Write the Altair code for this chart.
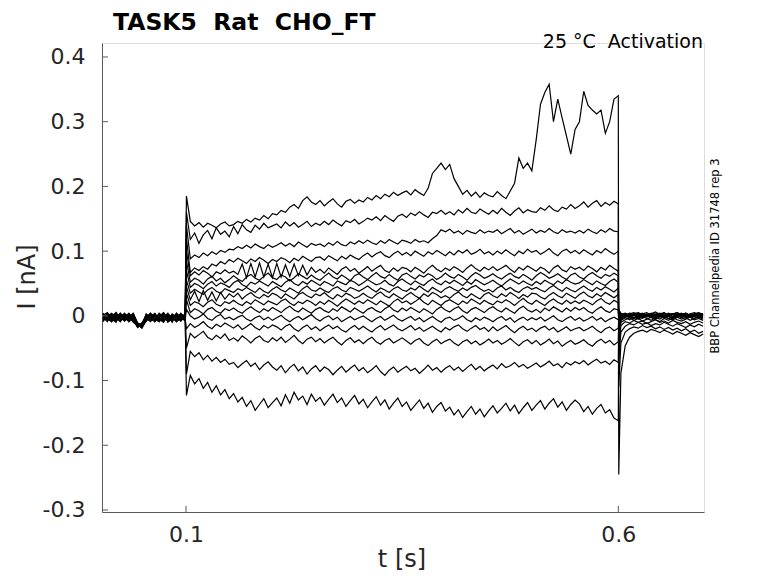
import altair as alt
import pandas as pd

# ---------------- sample grid (s) ----------------
t_pre = [round(0.004 + 0.005 * k, 4) for k in range(20)]
t_on = 0.1005
t_step = [round(0.105 + 0.005 * k, 4) for k in range(100)]
t_off = 0.6005
t_tail = [round(0.603 + 0.005 * k, 4) for k in range(20)]

# ---------------- current values (pA) ----------------
pre_1 = [-3, 4, -6, 1, -9, 3, -5, -1, -14, -18, -5, 3, -8, -2, 5, -4, 1, -7, 2, -3]
pre_2 = [2, -7, -1, -10, 4, -4, 1, -8, -17, -12, 0, -6, 3, -9, -3, 4, -6, -1, -8, 2]
pre_3 = [-6, 1, -9, 5, -3, -8, 0, 3, -12, -19, -7, -1, 4, -5, -10, 1, -4, -8, 3, -2]
pre_4 = [3, -4, 2, -7, -2, 4, -9, -3, -18, -14, 2, -8, -4, 3, -6, 0, -10, 4, -3, -7]
pre_5 = [-8, 2, -3, 5, -6, -1, 3, -7, -13, -16, -4, 4, -9, -2, 5, -5, -1, -9, 2, -5]
pre_6 = [4, -3, -8, 0, 3, -6, 1, -10, -15, -13, -8, 1, -2, -7, 3, -3, -8, 0, -5, 4]
pre_7 = [-2, -9, 3, -4, 1, -7, -2, 4, -11, -18, 2, -5, -9, 0, -3, -8, 3, -2, -6, 1]
pre_8 = [-9, 0, 4, -5, -1, 3, -8, -2, -16, -11, -3, 3, -7, -1, 2, -10, -4, 4, -8, -1]
pre_9 = [1, 5, -5, -2, -8, 2, -3, -9, -14, -18, -6, 3, -1, -8, -4, 2, -7, -3, 3, -4]
pre_10 = [-5, -1, 3, -8, 0, -4, 4, -6, -17, -12, 1, -7, 2, -3, -9, -1, -5, 2, -2, -8]
pre_11 = [3, -5, -9, 2, -3, -7, 0, 2, -12, -16, -8, -1, -6, 4, -2, -6, 0, -9, -4, 3]
pre_12 = [-4, 2, -2, -6, 4, -3, -9, 3, -15, -17, -2, 1, -5, -9, 2, -3, -8, 3, -1, -6]
pre_13 = [-7, 3, -1, -3, -9, 1, 2, -6, -11, -14, -4, -9, 1, -4, -8, 3, -2, -6, 4, -4]
pre_14 = [2, -2, -6, -9, 1, -3, -5, 0, -16, -15, 3, -2, -6, -8, -1, -5, 2, -3, -7, 0]
pre_15 = [-1, -6, 1, 4, -5, -1, 3, -8, -13, -17, -1, -7, 2, -3, -6, 1, -4, -7, 3, -2]
pre_16 = [-5, 2, -3, -4, 3, -8, -2, -1, -18, -12, -2, 4, -7, 0, 3, -9, -4, 1, -3, 2]

on_spike = [185, 160, 140, 120, 100, 85, 70, 55, 45, 35, 25, 10, -20, -50, -90, -123]
off_spike = [-245, -110, -70, -50, -40, -35, -30, -25, -20, -15, -10, -8, -5, 0, 5, 10]

step_1 = [146, 139, 144, 137, 143, 140, 136, 142, 145, 139,
          141, 146, 143, 149, 145, 151, 148, 155, 150, 158,
          156, 163, 160, 168, 172, 166, 178, 184, 176, 172,
          178, 170, 176, 181, 173, 168, 177, 180, 174, 179,
          176, 183, 179, 186, 181, 188, 184, 191, 186, 190,
          193, 187, 195, 190, 186, 197, 220, 228, 236, 226,
          234, 212, 200, 188, 194, 185, 191, 183, 190, 186,
          184, 192, 186, 181, 193, 205, 244, 228, 236, 224,
          272, 327, 345, 358, 300, 335, 306, 278, 250, 288,
          300, 347, 325, 318, 312, 318, 282, 300, 335, 340]
step_2 = [118, 128, 112, 125, 132, 119, 136, 126, 131, 122,
          138, 127, 141, 133, 129, 140, 134, 143, 136, 139,
          142, 136, 145, 139, 144, 137, 141, 146, 138, 143,
          140, 146, 141, 148, 143, 139, 147, 144, 149, 142,
          146, 151, 148, 153, 147, 155, 150, 146, 154, 157,
          152, 159, 155, 161, 156, 152, 160, 158, 163, 157,
          161, 156, 164, 159, 166, 160, 158, 165, 161, 157,
          163, 158, 166, 160, 155, 162, 167, 159, 164, 161,
          160, 167, 163, 170, 164, 161, 168, 165, 172, 166,
          170, 176, 168, 174, 178, 169, 175, 171, 177, 173]
step_3 = [88, 94, 90, 97, 93, 99, 95, 101, 98, 103,
          102, 107, 104, 109, 105, 111, 107, 104, 110, 106,
          109, 113, 108, 112, 107, 114, 110, 106, 112, 109,
          111, 107, 113, 109, 115, 110, 108, 114, 111, 116,
          112, 117, 113, 110, 116, 112, 118, 114, 111, 117,
          115, 112, 118, 114, 116, 113, 119, 124, 133, 130,
          134, 128, 131, 126, 132, 129, 127, 133, 128, 131,
          129, 133, 127, 131, 135, 128, 132, 126, 130, 134,
          128, 132, 129, 135, 130, 127, 133, 129, 131, 128,
          132, 128, 134, 130, 127, 133, 129, 135, 131, 130]
step_4 = [67, 74, 70, 76, 72, 80, 77, 84, 80, 87,
          83, 89, 85, 81, 88, 84, 90, 86, 81, 87,
          84, 90, 87, 82, 89, 85, 92, 88, 84, 90,
          91, 86, 93, 89, 85, 92, 88, 94, 90, 87,
          93, 97, 91, 96, 99, 93, 90, 96, 100, 94,
          98, 93, 100, 96, 92, 99, 95, 101, 97, 93,
          99, 94, 101, 97, 102, 95, 98, 103, 96, 99,
          94, 100, 96, 102, 97, 93, 100, 96, 103, 98,
          101, 95, 99, 104, 97, 93, 100, 103, 97, 101,
          96, 102, 98, 94, 101, 97, 104, 99, 95, 100]
step_5 = [62, 68, 63, 70, 66, 60, 68, 65, 71, 66,
          69, 64, 80, 59, 81, 60, 82, 60, 80, 59,
          81, 60, 79, 61, 80, 62, 78, 63, 75, 67,
          72, 66, 74, 69, 64, 72, 76, 69, 73, 66,
          71, 76, 69, 74, 78, 70, 67, 74, 69, 75,
          73, 68, 75, 71, 66, 73, 78, 72, 68, 74,
          70, 76, 72, 67, 74, 79, 73, 69, 75, 71,
          76, 70, 74, 78, 72, 67, 75, 71, 77, 73,
          69, 75, 72, 66, 74, 78, 71, 68, 76, 72,
          75, 70, 77, 73, 68, 75, 71, 78, 73, 69]
step_6 = [52, 58, 55, 49, 57, 61, 54, 58, 51, 56,
          62, 57, 53, 60, 64, 58, 55, 61, 66, 59,
          56, 63, 60, 54, 59, 65, 61, 57, 63, 58,
          55, 61, 66, 60, 57, 63, 59, 54, 62, 65,
          60, 56, 62, 67, 61, 58, 64, 59, 55, 63,
          66, 61, 57, 63, 60, 65, 62, 56, 60, 66,
          61, 58, 64, 60, 55, 62, 67, 63, 58, 61,
          65, 60, 57, 62, 66, 61, 58, 64, 60, 55,
          62, 67, 63, 58, 61, 65, 60, 56, 63, 66,
          60, 57, 63, 67, 62, 58, 64, 61, 66, 62]
step_7 = [44, 50, 47, 42, 49, 53, 46, 51, 48, 44,
          51, 55, 48, 45, 52, 49, 54, 50, 46, 53,
          49, 45, 52, 56, 50, 47, 53, 49, 55, 51,
          47, 53, 50, 46, 54, 51, 48, 55, 52, 47,
          51, 56, 52, 48, 50, 55, 49, 46, 53, 57,
          52, 48, 54, 50, 47, 53, 57, 51, 48, 54,
          50, 55, 51, 47, 53, 49, 56, 52, 48, 51,
          55, 50, 46, 52, 57, 53, 49, 54, 50, 47,
          53, 49, 55, 51, 48, 54, 50, 56, 52, 49,
          51, 56, 52, 48, 54, 50, 47, 53, 57, 52]
step_8 = [35, 41, 37, 33, 40, 44, 38, 35, 42, 39,
          36, 42, 39, 44, 40, 36, 43, 38, 35, 41,
          45, 40, 37, 43, 39, 35, 42, 46, 40, 38,
          43, 39, 36, 42, 45, 40, 37, 44, 41, 38,
          42, 46, 41, 37, 43, 40, 36, 42, 45, 40,
          38, 43, 40, 46, 41, 37, 44, 40, 36, 42,
          45, 41, 38, 43, 39, 44, 47, 42, 38, 41,
          37, 43, 46, 40, 44, 39, 36, 42, 45, 41,
          44, 40, 37, 43, 47, 42, 38, 44, 40, 37,
          42, 46, 41, 38, 44, 40, 45, 41, 37, 43]
step_9 = [25, 38, 22, 39, 24, 37, 23, 36, 26, 34,
          29, 35, 26, 32, 36, 30, 27, 33, 29, 35,
          32, 27, 34, 30, 26, 33, 36, 31, 28, 34,
          31, 36, 30, 26, 33, 29, 35, 32, 27, 30,
          35, 30, 27, 33, 37, 31, 28, 34, 30, 26,
          32, 36, 31, 27, 34, 30, 36, 33, 28, 31,
          27, 33, 37, 31, 28, 34, 30, 26, 33, 36,
          31, 28, 34, 30, 36, 32, 27, 33, 29, 35,
          34, 29, 26, 32, 36, 31, 28, 35, 31, 27,
          33, 37, 31, 28, 34, 30, 36, 32, 28, 33]
step_10 = [16, 22, 19, 14, 21, 25, 18, 15, 22, 19,
           24, 19, 16, 22, 18, 25, 21, 17, 23, 20,
           17, 23, 26, 20, 16, 22, 19, 24, 21, 16,
           22, 18, 24, 20, 15, 21, 26, 22, 18, 23,
           19, 25, 21, 17, 23, 19, 15, 22, 26, 20,
           23, 18, 22, 27, 21, 17, 24, 20, 16, 22,
           25, 21, 17, 23, 19, 26, 22, 18, 24, 20,
           17, 23, 20, 25, 21, 16, 22, 27, 21, 18,
           24, 20, 16, 22, 26, 21, 18, 24, 19, 23,
           19, 24, 21, 17, 23, 27, 21, 18, 24, 20]
step_11 = [5, 11, 8, 3, 10, 13, 7, 4, 11, 8,
           12, 7, 4, 10, 14, 9, 5, 11, 7, 13,
           9, 5, 11, 15, 9, 6, 12, 8, 4, 10,
           13, 8, 5, 11, 7, 14, 10, 6, 12, 8,
           4, 10, 13, 8, 5, 11, 15, 9, 6, 12,
           8, 13, 9, 5, 11, 7, 3, 10, 14, 9,
           6, 11, 14, 8, 4, 10, 13, 9, 5, 11,
           14, 9, 6, 12, 8, 4, 11, 15, 9, 6,
           10, 5, 12, 8, 14, 10, 6, 12, 7, 13,
           9, 13, 7, 4, 10, 14, 8, 5, 11, 9]
step_12 = [0, -5, -2, 3, -4, -7, -1, 2, -5, -2,
           -6, -2, 1, -5, -8, -3, 0, -6, -2, -7,
           -3, 1, -5, -9, -4, -1, -6, -2, 2, -4,
           -8, -3, 0, -6, -2, -9, -5, -1, -6, -3,
           0, -5, -9, -4, -1, -7, -3, 1, -5, -8,
           -4, -1, -7, -3, -9, -5, -1, -6, -10, -4,
           -2, -7, -4, 0, -6, -9, -3, -7, -2, -5,
           -9, -4, -1, -7, -3, -10, -5, -2, -7, -3,
           -6, -2, -8, -4, 0, -6, -9, -4, -1, -7,
           -3, -8, -5, -1, -7, -3, -9, -5, -2, -6]
step_13 = [-12, -18, -14, -9, -16, -20, -13, -17, -11, -15,
           -19, -14, -21, -17, -12, -18, -22, -15, -19, -14,
           -17, -22, -16, -13, -20, -24, -18, -14, -21, -17,
           -23, -18, -14, -20, -16, -22, -25, -19, -15, -21,
           -16, -21, -25, -19, -15, -22, -18, -14, -20, -23,
           -19, -15, -22, -18, -24, -20, -16, -21, -25, -18,
           -22, -17, -14, -20, -24, -19, -15, -21, -18, -24,
           -17, -23, -19, -15, -21, -26, -20, -16, -22, -19,
           -24, -19, -16, -22, -18, -25, -21, -17, -23, -20,
           -18, -23, -20, -16, -22, -26, -20, -17, -23, -19]
step_14 = [-27, -34, -29, -24, -33, -37, -30, -35, -28, -38,
           -34, -39, -31, -36, -42, -35, -31, -38, -41, -34,
           -39, -33, -41, -36, -30, -38, -43, -36, -33, -40,
           -35, -42, -37, -33, -40, -45, -38, -34, -41, -37,
           -43, -37, -33, -40, -44, -38, -35, -42, -38, -34,
           -39, -44, -38, -35, -42, -46, -40, -36, -43, -39,
           -36, -42, -46, -40, -37, -43, -39, -45, -41, -36,
           -42, -38, -44, -40, -35, -41, -46, -40, -37, -43,
           -38, -45, -41, -36, -43, -39, -47, -42, -38, -44,
           -41, -37, -43, -47, -40, -36, -42, -38, -45, -40]
step_15 = [-55, -63, -57, -68, -61, -70, -64, -72, -67, -75,
           -72, -80, -74, -69, -78, -73, -83, -76, -71, -79,
           -84, -77, -88, -80, -75, -85, -79, -90, -82, -77,
           -86, -79, -83, -91, -84, -78, -87, -81, -76, -85,
           -80, -88, -83, -77, -86, -92, -84, -79, -87, -82,
           -78, -85, -81, -89, -83, -76, -84, -80, -87, -81,
           -77, -84, -79, -86, -80, -75, -83, -78, -85, -80,
           -76, -82, -74, -80, -77, -72, -79, -75, -81, -77,
           -73, -79, -75, -70, -77, -74, -80, -72, -76, -71,
           -74, -69, -76, -71, -67, -73, -70, -75, -68, -72]
step_16 = [-92, -105, -97, -112, -103, -118, -108, -122, -114, -128,
           -120, -133, -126, -140, -131, -146, -137, -128, -142, -134,
           -127, -139, -122, -135, -118, -130, -124, -137, -121, -132,
           -126, -138, -129, -121, -134, -127, -140, -131, -123, -136,
           -129, -142, -133, -125, -138, -130, -144, -135, -127, -140,
           -133, -146, -138, -130, -143, -135, -149, -140, -134, -147,
           -141, -153, -145, -157, -148, -140, -152, -144, -156, -147,
           -139, -150, -143, -135, -147, -138, -151, -142, -134, -146,
           -138, -131, -144, -135, -128, -141, -133, -146, -137, -130,
           -136, -148, -140, -152, -143, -137, -150, -145, -158, -162]

tail_1 = [-88, -46, -33, -27, -24, -22, -25, -21, -23, -26, -22, -25, -28, -24, -27, -30, -26, -29, -32, -28]
tail_2 = [-42, -25, -20, -17, -19, -15, -18, -16, -20, -17, -21, -18, -22, -19, -23, -20, -25, -22, -27, -24]
tail_3 = [-25, -16, -12, -14, -10, -13, -11, -15, -12, -14, -10, -13, -16, -12, -15, -18, -14, -17, -13, -16]
tail_4 = [-15, -9, -11, -7, -10, -8, -12, -9, -6, -10, -8, -11, -7, -10, -12, -9, -13, -10, -8, -11]
tail_5 = [-10, -6, -3, -7, -4, -8, -5, -2, -6, -9, -4, -7, -3, -6, -8, -5, -2, -6, -4, -7]
tail_6 = [-7, -3, -6, -2, -5, -1, -4, -7, -3, -5, -1, -4, -6, -2, -5, -3, -7, -4, -2, -5]
tail_7 = [-6, -2, 0, -4, -1, -3, 1, -2, -5, -1, -3, 0, -4, -2, 1, -3, -1, -4, 0, -2]
tail_8 = [-4, 0, -3, 1, -2, -4, 0, -1, -3, 2, -2, -4, -1, 1, -3, 0, -2, 2, -1, -3]
tail_9 = [-3, 1, -1, -4, 0, 2, -2, 1, -3, 0, 2, -1, -3, 0, 3, -2, 1, -1, -3, 1]
tail_10 = [-2, 2, -1, 1, -3, 0, 3, -1, 1, -2, 0, 3, -1, 2, -2, 1, -1, 3, 0, -2]
tail_11 = [0, -2, 2, 0, 3, -1, 1, -3, 2, 0, -2, 1, 3, -1, 0, 2, -2, 1, -1, 2]
tail_12 = [1, 3, 0, 2, -1, 3, 1, -2, 2, 4, 0, 2, -1, 3, 1, -1, 2, 0, 3, 1]
tail_13 = [2, -1, 3, 1, 4, 0, 2, 3, -1, 2, 4, 1, 3, 0, 2, 4, 1, -1, 2, 3]
tail_14 = [3, 1, 4, 2, 0, 3, 5, 1, 3, 2, 0, 4, 2, 5, 1, 3, 0, 2, 4, 1]
tail_15 = [2, 4, 1, 3, 5, 2, 0, 4, 2, 3, 5, 1, 3, 2, 4, 0, 3, 5, 2, 3]
tail_16 = [4, 1, 3, 5, 2, 4, 1, 3, 6, 2, 4, 1, 3, 5, 2, 4, 0, 3, 5, 2]

pres = [pre_1, pre_2, pre_3, pre_4, pre_5, pre_6, pre_7, pre_8,
        pre_9, pre_10, pre_11, pre_12, pre_13, pre_14, pre_15, pre_16]
steps = [step_1, step_2, step_3, step_4, step_5, step_6, step_7, step_8,
         step_9, step_10, step_11, step_12, step_13, step_14, step_15, step_16]
tails = [tail_1, tail_2, tail_3, tail_4, tail_5, tail_6, tail_7, tail_8,
         tail_9, tail_10, tail_11, tail_12, tail_13, tail_14, tail_15, tail_16]

y_tick_values = [-0.3, -0.2, -0.1, 0.0, 0.1, 0.2, 0.3, 0.4]
x_tick_values = [0.1, 0.6]

title_text = "TASK5\u00a0\u00a0Rat\u00a0\u00a0CHO_FT"
cond_text = "25 °C\u00a0\u00a0Activation"
side_text = "BBP Channelpedia ID 31748 rep 3"

# ---------------- build long table ----------------
rows = []
for s in range(16):
    ts = t_pre + [t_on] + t_step + [t_off] + t_tail
    vs = pres[s] + [on_spike[s]] + steps[s] + [off_spike[s]] + tails[s]
    for t, v in zip(ts, vs):
        rows.append({"t": t, "I": v / 1000.0, "sweep": s + 1})
df = pd.DataFrame(rows)

W, H = 602, 469
FONT = "DejaVu Sans"
AX = "#262626"

xscale = alt.Scale(domain=[0.00285, 0.6991], nice=False, zero=False)
yscale = alt.Scale(domain=[-0.3031, 0.4216], nice=False, zero=False)

xaxis = alt.Axis(values=x_tick_values, format=".1f", ticks=False, grid=False,
                 labelFont=FONT, labelFontSize=22, labelColor=AX, labelPadding=12,
                 domainColor="#5a5a5a", domainWidth=1, title=None)
yaxis = alt.Axis(values=y_tick_values, ticks=False, grid=False,
                 labelExpr="datum.value == 0 ? '0' : (datum.value < 0 ? '-' + format(-datum.value, '.1f') : format(datum.value, '.1f'))",
                 labelFont=FONT, labelFontSize=22, labelColor=AX, labelPadding=17,
                 domainColor="#5a5a5a", domainWidth=1, title=None)

X = alt.X("t:Q", scale=xscale, axis=xaxis)
Y = alt.Y("I:Q", scale=yscale, axis=yaxis)

lines = alt.Chart(df).mark_line(color="black", strokeWidth=1.2, clip=True).encode(
    x=X, y=Y, detail="sweep:N"
)

ytick = alt.Chart(pd.DataFrame({"I": y_tick_values})).mark_rule(
    color="#5a5a5a", strokeWidth=1
).encode(y=Y, x=alt.value(0), x2=alt.value(6))

xtick = alt.Chart(pd.DataFrame({"t": x_tick_values})).mark_rule(
    color="#5a5a5a", strokeWidth=1
).encode(x=X, y=alt.value(H), y2=alt.value(H - 6))

title = alt.Chart(pd.DataFrame({"label": [title_text]})).mark_text(
    font=FONT, fontSize=23.5, fontWeight="bold", color="black", align="left", baseline="alphabetic"
).encode(x=alt.value(11), y=alt.value(-13.5), text="label:N")

cond = alt.Chart(pd.DataFrame({"label": [cond_text]})).mark_text(
    font=FONT, fontSize=19, color="black", align="right", baseline="alphabetic"
).encode(x=alt.value(601), y=alt.value(5), text="label:N")

side = alt.Chart(pd.DataFrame({"label": [side_text]})).mark_text(
    font=FONT, fontSize=11.5, color="black", align="center", baseline="middle", angle=270
).encode(x=alt.value(614), y=alt.value(213), text="label:N")

ylab = alt.Chart(pd.DataFrame({"label": ["I [nA]"]})).mark_text(
    font=FONT, fontSize=24, color=AX, align="center", baseline="middle", angle=270
).encode(x=alt.value(-74), y=alt.value(234), text="label:N")

xlab = alt.Chart(pd.DataFrame({"label": ["t [s]"]})).mark_text(
    font=FONT, fontSize=24, color=AX, align="center", baseline="middle"
).encode(x=alt.value(300), y=alt.value(517), text="label:N")

chart = alt.layer(lines, ytick, xtick, title, cond, side, ylab, xlab).properties(
    width=W, height=H,
    padding={"left": 94, "top": 35, "right": 60, "bottom": 63},
    autosize=alt.AutoSizeParams(type="none"),
).configure_view(strokeWidth=0).configure(background="white")

chart.save("out.html", embed_options={"renderer": "svg", "actions": False})
